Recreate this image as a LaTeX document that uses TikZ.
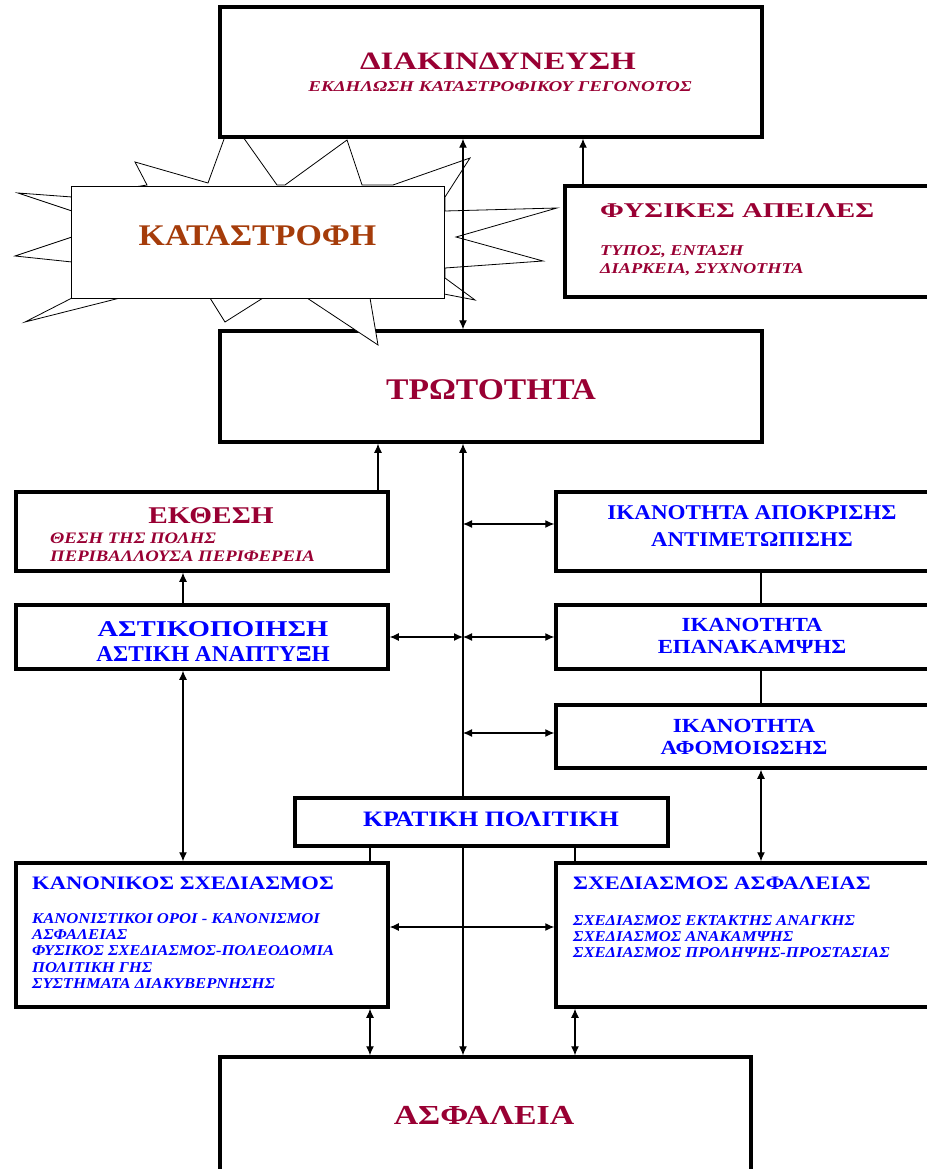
\documentclass[tikz,border=0pt]{standalone}
\usepackage{graphicx}
\usepackage{fontspec}
\setmainfont{Liberation Serif}
\usetikzlibrary{arrows.meta}
\definecolor{maroon}{RGB}{153,0,51}
\definecolor{rust}{RGB}{165,60,10}
\definecolor{pblue}{RGB}{0,0,255}
\newcommand{\hs}[2]{\scalebox{#1}[1]{#2}}
\newcommand{\fs}[1]{\fontsize{#1}{#1}\selectfont}
\begin{document}
\begin{tikzpicture}[x=1pt,y=-1pt,
  box/.style={draw, line width=3.5pt, fill=white, inner sep=0pt},
  thinbox/.style={draw, line width=0.9pt, fill=white, inner sep=0pt},
  star/.style={draw, line width=0.8pt, fill=white, line join=miter},
  conn/.style={line width=1.1pt},
  sgl/.style={conn, -{Latex[length=9pt,width=8pt]}},
  dbl/.style={conn, {Latex[length=9pt,width=8pt]}-{Latex[length=9pt,width=8pt]}},
  txt/.style={inner sep=0pt},
  mt/.style={txt, text=maroon, font=\bfseries},
  ms/.style={txt, text=maroon, font=\bfseries\itshape},
  bt/.style={txt, text=pblue, font=\bfseries},
  bs/.style={txt, anchor=base west, text=pblue, font=\bfseries\itshape\fs{15}},
]
\useasboundingbox (0,0) rectangle (926,1169);

% columns and rows
\coordinate (cx) at (463,0);
\coordinate (c183) at (183,0);
\coordinate (c370) at (370,0);
\coordinate (c378) at (378,0);
\coordinate (c575) at (575,0);
\coordinate (c583) at (583,0);
\coordinate (c761) at (761,0);
\coordinate (r524) at (0,524);
\coordinate (r637) at (0,637);
\coordinate (r733) at (0,733);
\coordinate (r927) at (0,927);

% TRWTOTHTA box first (star overlaps it)
\node[box, minimum width=542pt, minimum height=111pt] (trot) at (491,386.5) {};

% explosion star
\draw[star] (72,262) -- (15,256) -- (72,237) -- (72,211) -- (18,193) -- (72,197)
  -- (147,185) -- (135,162) -- (208,183) -- (231,120) -- (277,185) -- (285,185)
  -- (347,140) -- (362,185) -- (393,185) -- (470,158) -- (445,197) -- (445,211)
  -- (557,208) -- (456,237) -- (543,261) -- (445,268) -- (445,278) -- (475,300)
  -- (444,294) -- (370,298) -- (378,345) -- (307,298) -- (263,298) -- (225,322)
  -- (210,298) -- (120,298) -- (25,322) -- (72,298) -- cycle;

\node[box, minimum width=542pt, minimum height=130pt] (risk) at (491,72) {};
\node[thinbox, minimum width=373pt, minimum height=112pt] (katas) at (257.5,242) {};
\node[box, minimum width=375pt, minimum height=111pt] (fys) at (752.5,241.5) {};
\node[box, minimum width=372pt, minimum height=79pt] (ekth) at (202,531.5) {};
\node[box, minimum width=384pt, minimum height=79pt] (apok) at (748,531.5) {};
\node[box, minimum width=372pt, minimum height=64pt] (astik) at (202,637) {};
\node[box, minimum width=384pt, minimum height=64pt] (epan) at (748,637) {};
\node[box, minimum width=384pt, minimum height=63pt] (afom) at (748,736.5) {};
\node[box, minimum width=373pt, minimum height=48pt] (krat) at (481.5,822) {};
\node[box, minimum width=372pt, minimum height=144pt] (kanon) at (202,935) {};
\node[box, minimum width=384pt, minimum height=144pt] (sxed) at (748,935) {};
\node[box, minimum width=531pt, minimum height=123pt] (asfal) at (485.5,1118.5) {};

% connectors
\draw[dbl] (risk.south -| cx) -- (trot.north -| cx);
\draw[sgl] (fys.north -| c583) -- (risk.south -| c583);
\draw[sgl] (ekth.north -| c378) -- (trot.south -| c378);
\draw[sgl] (krat.north -| cx) -- (trot.south -| cx);
\draw[sgl] (krat.south -| cx) -- (asfal.north -| cx);
\draw[dbl] (cx |- r524) -- (apok.west |- r524);
\draw[dbl] (astik.east |- r637) -- (cx |- r637);
\draw[dbl] (cx |- r637) -- (epan.west |- r637);
\draw[dbl] (cx |- r733) -- (afom.west |- r733);
\draw[sgl] (astik.north -| c183) -- (ekth.south -| c183);
\draw[dbl] (astik.south -| c183) -- (kanon.north -| c183);
\draw[dbl] (afom.south -| c761) -- (sxed.north -| c761);
\draw[conn] (apok.south -| c761) -- (epan.north -| c761);
\draw[conn] (epan.south -| c761) -- (afom.north -| c761);
\draw[conn] (krat.south -| c370) -- (kanon.north -| c370);
\draw[conn] (krat.south -| c575) -- (sxed.north -| c575);
\draw[dbl] (kanon.east |- r927) -- (sxed.west |- r927);
\draw[dbl] (kanon.south -| c370) -- (asfal.north -| c370);
\draw[dbl] (sxed.south -| c575) -- (asfal.north -| c575);

% texts
\node[mt, anchor=base, font=\bfseries\fs{25}] (t-risk) at (498,70) {\hs{1.31}{ΔΙΑΚΙΝΔΥΝΕΥΣΗ}};
\node[ms, anchor=base, font=\bfseries\itshape\fs{15}] (t-risk2) at (500,92) {\hs{1.27}{ΕΚΔΗΛΩΣΗ ΚΑΤΑΣΤΡΟΦΙΚΟΥ ΓΕΓΟΝΟΤΟΣ}};
\node[txt, anchor=base, text=rust, font=\bfseries\fs{30}] (t-katas) at (257.5,245) {\hs{1.13}{ΚΑΤΑΣΤΡΟΦΗ}};
\node[mt, anchor=base west, font=\bfseries\fs{21}] (t-fys) at (600,217) {\hs{1.37}{ΦΥΣΙΚΕΣ ΑΠΕΙΛΕΣ}};
\node[ms, anchor=base west, font=\bfseries\itshape\fs{15}] (t-fys2) at (600,255) {\hs{1.22}{ΤΥΠΟΣ, ΕΝΤΑΣΗ}};
\node[ms, anchor=base west, font=\bfseries\itshape\fs{15}] (t-fys3) at (600,273) {\hs{1.22}{ΔΙΑΡΚΕΙΑ, ΣΥΧΝΟΤΗΤΑ}};
\node[mt, anchor=base, font=\bfseries\fs{30}] (t-trot) at (491,399) {\hs{1.12}{ΤΡΩΤΟΤΗΤΑ}};
\node[mt, anchor=base, font=\bfseries\fs{24}] (t-ekth) at (211,523) {\hs{1.22}{ΕΚΘΕΣΗ}};
\node[ms, anchor=base west, font=\bfseries\itshape\fs{16}] (t-ekth2) at (50,543) {\hs{1.17}{ΘΕΣΗ ΤΗΣ ΠΟΛΗΣ}};
\node[ms, anchor=base west, font=\bfseries\itshape\fs{16}] (t-ekth3) at (50,561) {\hs{1.17}{ΠΕΡΙΒΑΛΛΟΥΣΑ ΠΕΡΙΦΕΡΕΙΑ}};
\node[bt, anchor=base, font=\bfseries\fs{21}] (t-apok) at (752,519) {\hs{1.10}{ΙΚΑΝΟΤΗΤΑ ΑΠΟΚΡΙΣΗΣ}};
\node[bt, anchor=base, font=\bfseries\fs{21}] (t-apok2) at (752,546) {\hs{1.09}{ΑΝΤΙΜΕΤΩΠΙΣΗΣ}};
\node[bt, anchor=base, font=\bfseries\fs{22.6}] (t-astik) at (213,636) {\hs{1.26}{ΑΣΤΙΚΟΠΟΙΗΣΗ}};
\node[bt, anchor=base, font=\bfseries\fs{22.6}] (t-astik2) at (213,661) {\hs{1.03}{ΑΣΤΙΚΗ ΑΝΑΠΤΥΞΗ}};
\node[bt, anchor=base, font=\bfseries\fs{20}] (t-epan) at (752,631) {\hs{1.15}{ΙΚΑΝΟΤΗΤΑ}};
\node[bt, anchor=base, font=\bfseries\fs{20}] (t-epan2) at (752,653) {\hs{1.14}{ΕΠΑΝΑΚΑΜΨΗΣ}};
\node[bt, anchor=base, font=\bfseries\fs{20}] (t-afom) at (744,732) {\hs{1.16}{ΙΚΑΝΟΤΗΤΑ}};
\node[bt, anchor=base, font=\bfseries\fs{20}] (t-afom2) at (744,754) {\hs{1.15}{ΑΦΟΜΟΙΩΣΗΣ}};
\node[bt, anchor=base, font=\bfseries\fs{22}] (t-krat) at (491,826) {\hs{1.17}{ΚΡΑΤΙΚΗ ΠΟΛΙΤΙΚΗ}};
\node[bt, anchor=base west, font=\bfseries\fs{19}] (t-kanon) at (32,889) {\hs{1.19}{ΚΑΝΟΝΙΚΟΣ ΣΧΕΔΙΑΣΜΟΣ}};
\node[bs] (t-kanon2) at (32,923) {\hs{1.11}{ΚΑΝΟΝΙΣΤΙΚΟΙ ΟΡΟΙ - ΚΑΝΟΝΙΣΜΟΙ}};
\node[bs] (t-kanon3) at (32,939) {\hs{1.11}{ΑΣΦΑΛΕΙΑΣ}};
\node[bs] (t-kanon4) at (32,955) {\hs{1.11}{ΦΥΣΙΚΟΣ ΣΧΕΔΙΑΣΜΟΣ-ΠΟΛΕΟΔΟΜΙΑ}};
\node[bs] (t-kanon5) at (32,972) {\hs{1.11}{ΠΟΛΙΤΙΚΗ ΓΗΣ}};
\node[bs] (t-kanon6) at (32,988) {\hs{1.11}{ΣΥΣΤΗΜΑΤΑ ΔΙΑΚΥΒΕΡΝΗΣΗΣ}};
\node[bt, anchor=base west, font=\bfseries\fs{19}] (t-sxed) at (573,889) {\hs{1.2}{ΣΧΕΔΙΑΣΜΟΣ ΑΣΦΑΛΕΙΑΣ}};
\node[bs] (t-sxed2) at (573,925) {\hs{1.11}{ΣΧΕΔΙΑΣΜΟΣ ΕΚΤΑΚΤΗΣ ΑΝΑΓΚΗΣ}};
\node[bs] (t-sxed3) at (573,941) {\hs{1.11}{ΣΧΕΔΙΑΣΜΟΣ ΑΝΑΚΑΜΨΗΣ}};
\node[bs] (t-sxed4) at (573,957) {\hs{1.11}{ΣΧΕΔΙΑΣΜΟΣ ΠΡΟΛΗΨΗΣ-ΠΡΟΣΤΑΣΙΑΣ}};
\node[mt, anchor=base, font=\bfseries\fs{27.5}] (t-asfal) at (484,1124) {\hs{1.23}{ΑΣΦΑΛΕΙΑ}};
\end{tikzpicture}
\end{document}
